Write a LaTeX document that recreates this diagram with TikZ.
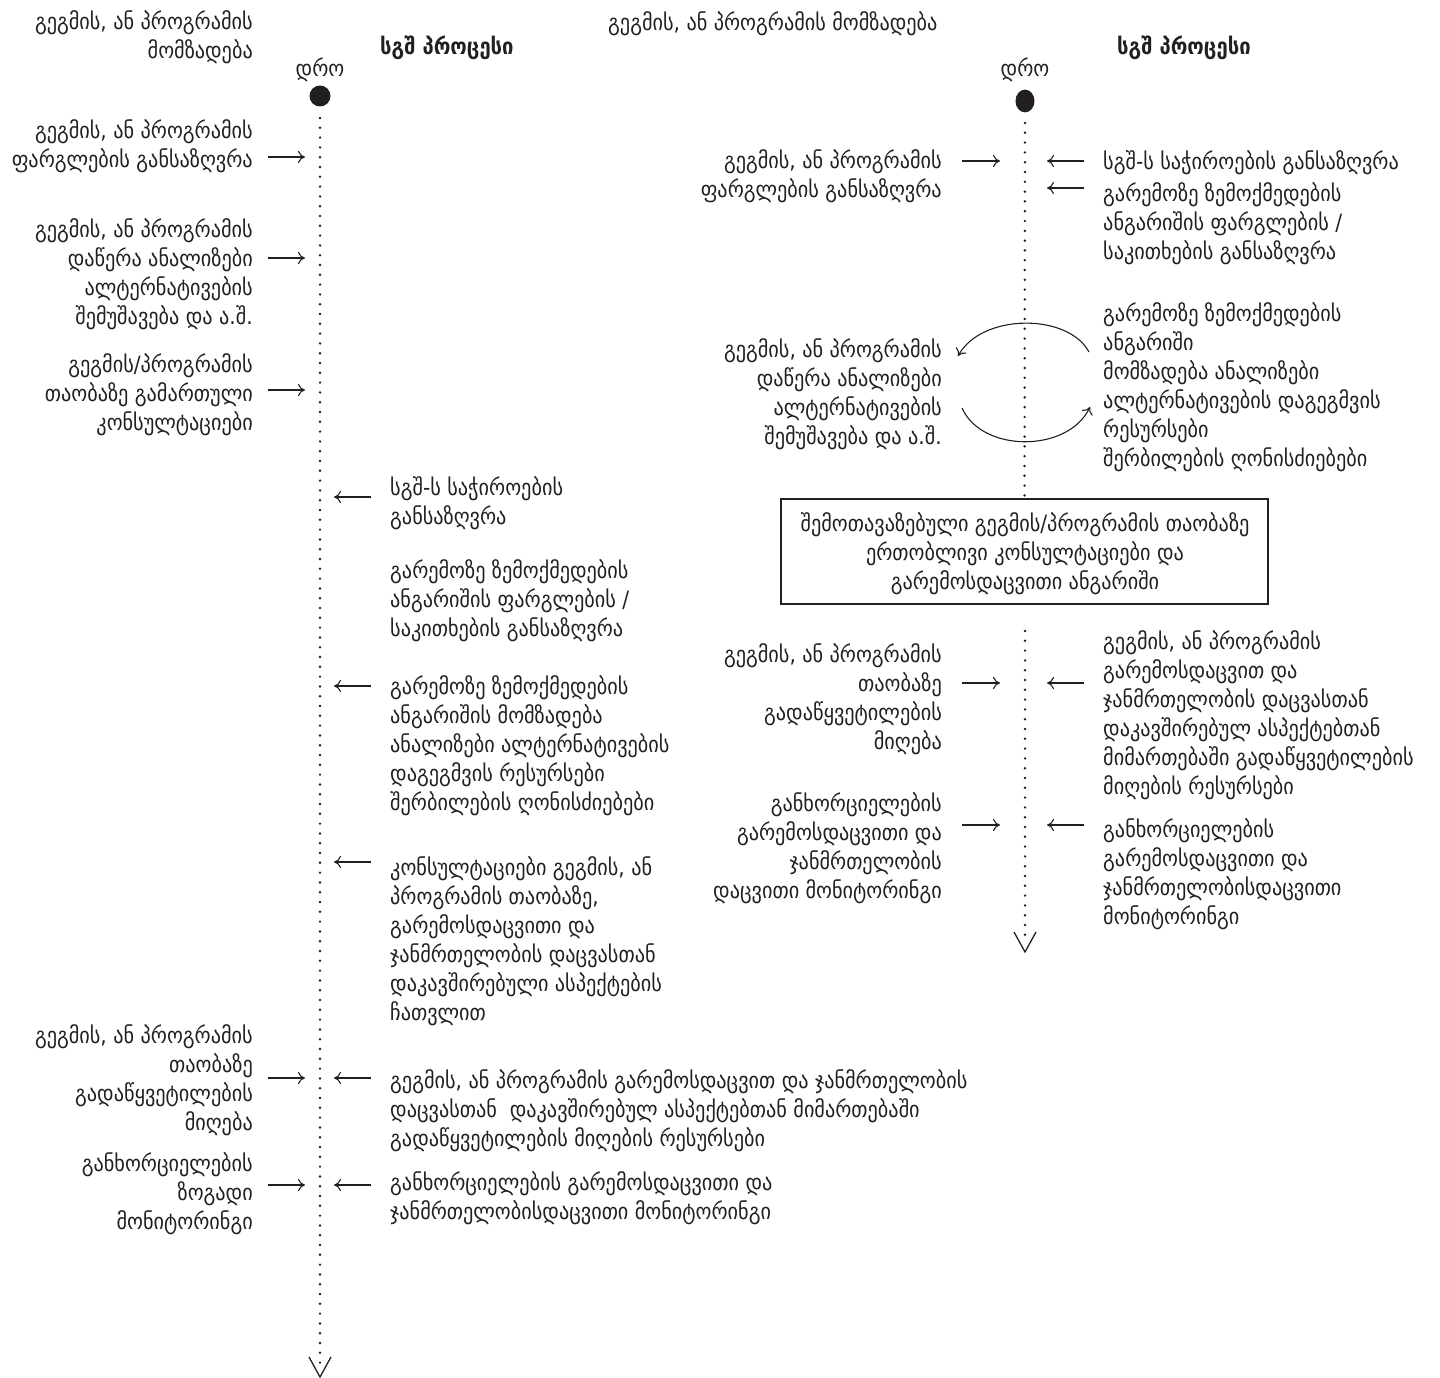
\documentclass[tikz,border=0pt]{standalone}
\usepackage{fontspec}
\setmainfont{DejaVu Sans}[FakeStretch=0.9]
\usetikzlibrary{arrows.meta}
\definecolor{ink}{HTML}{231F20}
\tikzset{
  txt/.style={font=\fontsize{22.5}{29}\selectfont, inner sep=0pt, text=ink, execute at begin node=\strut},
  lt/.style={txt, align=right, anchor=north east},
  rt/.style={txt, align=left, anchor=north west},
  ct/.style={txt, align=center, anchor=north},
  arr/.style={-{Computer Modern Rightarrow[length=7pt,width=12pt]}, line width=1.1pt, draw=ink},
  timeline/.style={draw=ink, line width=2.7pt, line cap=round, dash pattern=on 0pt off 9.8pt},
  vtip/.style={draw=ink, line width=1.3pt},
  ttl/.style={font=\fontsize{22.5}{29}\selectfont\bfseries, inner sep=0pt, text=ink, anchor=north west, execute at begin node=\strut}
}
\begin{document}
\begin{tikzpicture}[x=1pt,y=-1pt]
\useasboundingbox (0,0) rectangle (1440,1378);

%================ LEFT PANEL =================
\node[lt] (tL) at (253,10) {გეგმის, ან პროგრამის\\მომზადება};
\node[ttl] (sL) at (380,34) {სგშ პროცესი};
\node[ct] (dL) at (320,56) {დრო};
\node[circle, fill=ink, inner sep=0pt, minimum size=21pt] (dotL) at (320,96) {};
\coordinate (endL) at (320,1368);
\draw[timeline] (320,118) -- (endL);
\coordinate (vLa) at (309,1357);
\coordinate (vLb) at (331,1357);
\coordinate (vLc) at (320,1377);
\draw[vtip] (vLa) -- (vLc) -- (vLb);

\node[lt] (L1) at (253,119) {გეგმის, ან პროგრამის\\ფარგლების განსაზღვრა};
\node[lt] (L2) at (253,218) {გეგმის, ან პროგრამის\\დაწერა ანალიზები\\ალტერნატივების\\შემუშავება და ა.შ.};
\node[lt] (L3) at (253,353) {გეგმის/პროგრამის\\თაობაზე გამართული\\კონსულტაციები};
\node[lt] (L4) at (253,1024) {გეგმის, ან პროგრამის\\თაობაზე\\გადაწყვეტილების\\მიღება};
\node[lt] (L5) at (253,1152) {განხორციელების\\ზოგადი\\მონიტორინგი};

\node[rt] (R1) at (390,476) {სგშ-ს საჭიროების\\განსაზღვრა};
\node[rt] (R2) at (390,559) {გარემოზე ზემოქმედების\\ანგარიშის ფარგლების /\\საკითხების განსაზღვრა};
\node[rt] (R3) at (390,675) {გარემოზე ზემოქმედების\\ანგარიშის მომზადება\\ანალიზები ალტერნატივების\\დაგეგმვის რესურსები\\შერბილების ღონისძიებები};
\node[rt] (R4) at (390,856) {კონსულტაციები გეგმის, ან\\პროგრამის თაობაზე,\\გარემოსდაცვითი და\\ჯანმრთელობის დაცვასთან\\დაკავშირებული ასპექტების\\ჩათვლით};
\node[rt] (R5) at (390,1069) {გეგმის, ან პროგრამის გარემოსდაცვით და ჯანმრთელობის\\დაცვასთან \ დაკავშირებულ ასპექტებთან მიმართებაში\\გადაწყვეტილების მიღების რესურსები};
\node[rt] (R6) at (390,1171) {განხორციელების გარემოსდაცვითი და\\ჯანმრთელობისდაცვითი მონიტორინგი};

% arrows into left timeline
\coordinate (aL1s) at (268,157); \coordinate (aL1e) at (305,157);
\coordinate (aL2s) at (268,258); \coordinate (aL2e) at (305,258);
\coordinate (aL3s) at (268,390); \coordinate (aL3e) at (305,390);
\coordinate (aL4s) at (268,1078); \coordinate (aL4e) at (305,1078);
\coordinate (aL5s) at (268,1185); \coordinate (aL5e) at (305,1185);
\coordinate (aR1s) at (371,497); \coordinate (aR1e) at (334,497);
\coordinate (aR3s) at (371,686); \coordinate (aR3e) at (334,686);
\coordinate (aR4s) at (371,862); \coordinate (aR4e) at (334,862);
\coordinate (aR5s) at (371,1078); \coordinate (aR5e) at (334,1078);
\coordinate (aR6s) at (371,1185); \coordinate (aR6e) at (334,1185);
\foreach \a in {aL1,aL2,aL3,aL4,aL5,aR1,aR3,aR4,aR5,aR6}
  \draw[arr] (\a s) -- (\a e);

%================ RIGHT PANEL =================
\node[rt] (tR) at (608,10) {გეგმის, ან პროგრამის მომზადება};
\node[ttl] (sR) at (1117,34) {სგშ პროცესი};
\node[ct] (dR) at (1025,56) {დრო};
\node[fill=ink, inner sep=0pt, shape=circle, minimum size=19pt, yscale=1.2] (dotR) at (1025,101) {};
\node[draw=ink, line width=1.5pt, minimum width=487pt, minimum height=105pt, inner sep=0pt] (box) at (1024.5,551.5) {};
\node[ct] (boxt) at (1025,512) {შემოთავაზებული გეგმის/პროგრამის თაობაზე\\ერთობლივი კონსულტაციები და\\გარემოსდაცვითი ანგარიში};
\draw[timeline] (1025,123) -- (box.north);
\coordinate (tR2s) at (1025,631);
\coordinate (endR) at (1025,940);
\draw[timeline] (tR2s) -- (endR);
\coordinate (vRa) at (1014,932);
\coordinate (vRb) at (1036,932);
\coordinate (vRc) at (1025,952);
\draw[vtip] (vRa) -- (vRc) -- (vRb);

\node[lt] (PL1) at (942,149) {გეგმის, ან პროგრამის\\ფარგლების განსაზღვრა};
\node[lt] (PL2) at (942,338) {გეგმის, ან პროგრამის\\დაწერა ანალიზები\\ალტერნატივების\\შემუშავება და ა.შ.};
\node[lt] (PL3) at (942,643) {გეგმის, ან პროგრამის\\თაობაზე\\გადაწყვეტილების\\მიღება};
\node[lt] (PL4) at (942,792) {განხორციელების\\გარემოსდაცვითი და\\ჯანმრთელობის\\დაცვითი მონიტორინგი};

\node[rt] (PR1) at (1103,149) {სგშ-ს საჭიროების განსაზღვრა};
\node[rt] (PR2) at (1103,182) {გარემოზე ზემოქმედების\\ანგარიშის ფარგლების /\\საკითხების განსაზღვრა};
\node[rt] (PR3) at (1103,302) {გარემოზე ზემოქმედების\\ანგარიში\\მომზადება ანალიზები\\ალტერნატივების დაგეგმვის\\რესურსები\\შერბილების ღონისძიებები};
\node[rt] (PR4) at (1103,630) {გეგმის, ან პროგრამის\\გარემოსდაცვით და\\ჯანმრთელობის დაცვასთან\\დაკავშირებულ ასპექტებთან\\მიმართებაში გადაწყვეტილების\\მიღების რესურსები};
\node[rt] (PR5) at (1103,818) {განხორციელების\\გარემოსდაცვითი და\\ჯანმრთელობისდაცვითი\\მონიტორინგი};

\coordinate (bL1s) at (962,161); \coordinate (bL1e) at (1000,161);
\coordinate (bL3s) at (962,683); \coordinate (bL3e) at (1000,683);
\coordinate (bL4s) at (962,825); \coordinate (bL4e) at (1000,825);
\coordinate (bR1s) at (1084,161); \coordinate (bR1e) at (1047,161);
\coordinate (bR2s) at (1084,188); \coordinate (bR2e) at (1047,188);
\coordinate (bR4s) at (1084,683); \coordinate (bR4e) at (1047,683);
\coordinate (bR5s) at (1084,825); \coordinate (bR5e) at (1047,825);
\foreach \a in {bL1,bL3,bL4,bR1,bR2,bR4,bR5}
  \draw[arr] (\a s) -- (\a e);

% cycle arrows
\coordinate (c1s) at (1089,352); \coordinate (c1e) at (958,356);
\coordinate (c2s) at (962,408); \coordinate (c2e) at (1090,407);
\draw[arr] (c1s) .. controls (1068,313) and (982,313) .. (c1e);
\draw[arr] (c2s) .. controls (982,453) and (1068,453) .. (c2e);
\end{tikzpicture}
\end{document}
